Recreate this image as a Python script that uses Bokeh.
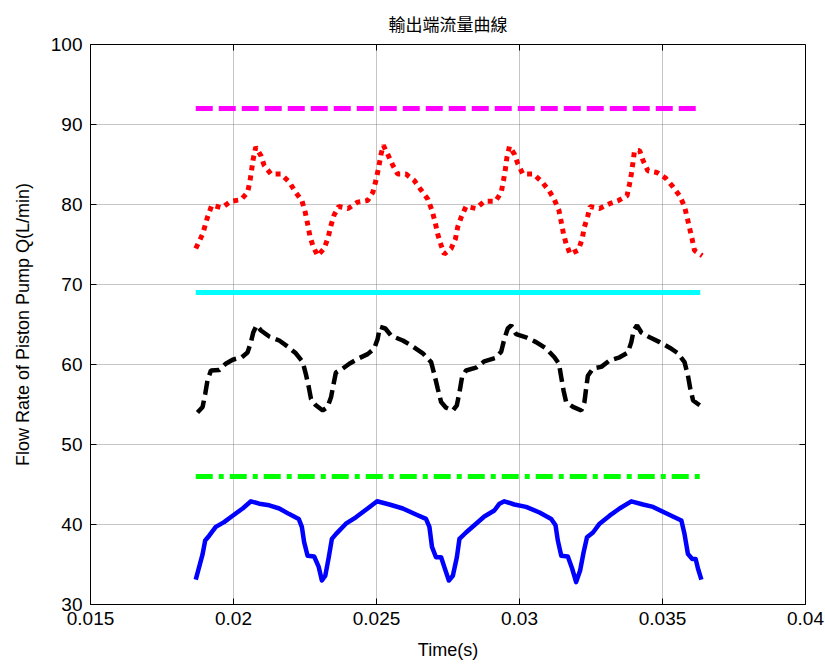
import numpy as np
from bokeh.plotting import figure
from bokeh.models import Range1d, FixedTicker
from bokeh.embed import file_html
from bokeh.resources import INLINE

# time in ms (converted to s below)
red_t = [18.68, 18.92, 19.09, 19.24, 19.59, 19.91, 20.26, 20.49, 20.57, 20.63, 20.69, 20.78, 20.96, 21.07, 21.31, 21.66, 21.95, 22.18, 22.39, 22.51, 22.59, 22.67, 22.77, 22.94, 23.17, 23.31, 23.41, 23.52, 23.68, 24.01, 24.34, 24.69, 24.87, 24.98, 25.08, 25.16, 25.24, 25.39, 25.57, 25.74, 26.03, 26.32, 26.56, 26.79, 26.94, 27.05, 27.14, 27.26, 27.37, 27.61, 27.76, 27.84, 27.96, 28.13, 28.48, 28.77, 29.16, 29.36, 29.44, 29.51, 29.56, 29.65, 29.82, 29.94, 30.12, 30.49, 30.79, 31.03, 31.22, 31.38, 31.46, 31.54, 31.63, 31.77, 32.06, 32.19, 32.27, 32.39, 32.47, 32.80, 33.15, 33.46, 33.76, 33.85, 33.91, 33.97, 34.02, 34.20, 34.32, 34.49, 34.81, 35.11, 35.37, 35.60, 35.77, 35.86, 35.95, 36.04, 36.12, 36.39]
red_q = [74.5, 76.3, 78.4, 79.9, 79.6, 80.4, 80.6, 81.5, 82.8, 84.25, 85.7, 87.2, 86.1, 84.9, 83.8, 83.8, 82.8, 81.5, 80.5, 79.0, 77.6, 76.1, 74.9, 73.6, 74.5, 75.9, 77.4, 78.7, 79.75, 79.5, 80.3, 80.5, 81.5, 83.0, 84.7, 86.3, 87.4, 86.3, 84.9, 83.8, 83.8, 83.0, 81.8, 80.7, 79.25, 77.8, 76.3, 74.9, 73.8, 74.5, 75.7, 77.2, 78.4, 79.75, 79.5, 80.4, 80.4, 81.5, 83.0, 84.5, 85.9, 87.25, 86.3, 85.1, 83.8, 83.8, 82.8, 81.75, 80.6, 79.25, 77.8, 76.3, 75.1, 73.8, 74.3, 75.7, 77.2, 78.6, 79.75, 79.5, 80.1, 80.5, 81.1, 82.6, 83.8, 85.3, 86.7, 86.75, 85.5, 84.2, 84.0, 83.3, 82.2, 81.1, 79.75, 78.4, 77.0, 75.6, 74.25, 73.6]

black_t = [18.74, 18.92, 19.01, 19.09, 19.21, 19.50, 19.73, 19.97, 20.29, 20.49, 20.61, 20.69, 20.81, 20.96, 21.25, 21.60, 21.89, 22.18, 22.42, 22.53, 22.63, 22.71, 22.88, 23.12, 23.29, 23.41, 23.49, 23.58, 23.82, 24.05, 24.34, 24.69, 24.92, 25.04, 25.12, 25.31, 25.51, 25.92, 26.27, 26.62, 26.91, 27.02, 27.14, 27.26, 27.43, 27.67, 27.81, 27.90, 27.99, 28.13, 28.48, 28.77, 29.15, 29.36, 29.47, 29.59, 29.71, 29.88, 30.23, 30.58, 30.93, 31.22, 31.38, 31.46, 31.54, 31.63, 31.87, 32.16, 32.27, 32.33, 32.39, 32.57, 32.86, 33.15, 33.50, 33.79, 33.91, 33.99, 34.11, 34.26, 34.55, 34.90, 35.25, 35.54, 35.77, 35.89, 35.97, 36.07, 36.30]
black_q = [54.0, 54.7, 56.3, 58.0, 59.25, 59.3, 60.1, 60.6, 60.9, 61.5, 62.8, 64.0, 64.9, 64.25, 63.5, 63.0, 62.25, 61.4, 60.3, 58.8, 57.2, 55.7, 54.9, 54.25, 54.7, 55.9, 57.4, 59.0, 59.5, 60.1, 60.7, 61.3, 62.0, 63.2, 64.7, 64.5, 63.6, 63.0, 62.25, 61.4, 60.3, 58.8, 57.0, 55.3, 54.6, 54.25, 54.9, 56.5, 58.4, 59.25, 59.6, 60.4, 60.8, 61.6, 63.2, 64.5, 64.9, 63.8, 63.4, 62.8, 62.0, 60.9, 60.1, 58.4, 56.75, 55.3, 54.7, 54.25, 55.3, 57.0, 58.6, 59.5, 59.7, 60.5, 60.9, 61.5, 62.8, 64.25, 64.9, 64.0, 63.4, 62.8, 62.1, 61.4, 60.3, 58.6, 57.0, 55.5, 54.9]

blue_t = [18.68, 18.80, 18.92, 19.01, 19.15, 19.38, 19.67, 19.97, 20.32, 20.61, 20.90, 21.25, 21.60, 21.95, 22.28, 22.39, 22.47, 22.59, 22.82, 22.98, 23.09, 23.21, 23.33, 23.44, 23.58, 23.93, 24.28, 24.69, 25.02, 25.45, 25.92, 26.38, 26.73, 26.85, 26.94, 27.08, 27.26, 27.37, 27.53, 27.67, 27.81, 27.90, 28.13, 28.48, 28.77, 29.12, 29.30, 29.47, 29.82, 30.23, 30.70, 31.11, 31.26, 31.34, 31.46, 31.69, 31.84, 31.98, 32.12, 32.24, 32.36, 32.57, 32.80, 33.15, 33.50, 33.91, 34.32, 34.67, 35.07, 35.42, 35.66, 35.77, 35.89, 36.04, 36.16, 36.24, 36.36]
blue_q = [33.1, 34.7, 36.3, 38.0, 38.6, 39.7, 40.3, 41.1, 42.0, 42.9, 42.6, 42.4, 42.0, 41.3, 40.7, 39.7, 37.8, 36.1, 36.0, 34.7, 33.0, 33.6, 35.9, 38.2, 38.8, 40.1, 40.9, 42.0, 42.9, 42.5, 42.0, 41.25, 40.7, 39.7, 37.2, 35.9, 35.9, 34.7, 33.0, 33.6, 35.9, 38.2, 39.0, 40.1, 41.0, 41.75, 42.6, 42.9, 42.5, 42.2, 41.5, 40.7, 39.9, 38.0, 36.1, 36.0, 34.5, 32.8, 34.25, 36.5, 38.4, 39.0, 40.1, 41.1, 42.0, 42.9, 42.5, 42.2, 41.5, 40.9, 40.5, 38.8, 36.3, 35.7, 35.7, 34.5, 33.1]

ref_t = [18.68, 36.32]
magenta_q = [92, 92]
cyan_q = [69, 69]
green_q = [46, 46]

x_ticks = [0.015, 0.02, 0.025, 0.03, 0.035, 0.04]
y_ticks = [30, 40, 50, 60, 70, 80, 90, 100]
x_labels = ["0.015", "0.02", "0.025", "0.03", "0.035", "0.04"]

def sec(ms):
    return [v / 1000.0 for v in ms]

FONT = "Liberation Sans"
X0, X1, Y0, Y1 = 0.015, 0.04, 30, 100

p = figure(width=825, height=666, output_backend="svg", toolbar_location=None,
           x_range=Range1d(X0, X1), y_range=Range1d(Y0, Y1),
           min_border_left=90, min_border_right=20, min_border_top=44, min_border_bottom=62,
           title="輸出端流量曲線")
p.title.align = "center"
p.title.vertical_align = "top"
p.title.text_font = "Noto Sans CJK TC"
p.title.text_font_style = "normal"
p.title.text_font_size = "17px"
p.title.text_color = "#000000"
p.title.offset = 0
p.title.standoff = 14
p.outline_line_color = "#000000"
p.outline_line_width = 1
p.background_fill_color = "#ffffff"
p.border_fill_color = "#ffffff"

for ax in (p.xaxis[0], p.yaxis[0]):
    ax.major_tick_in = 6
    ax.major_tick_out = 0
    ax.minor_tick_in = 0
    ax.minor_tick_out = 0
    ax.major_label_text_font = FONT
    ax.major_label_text_font_size = "19px"
    ax.major_label_text_color = "#000000"
    ax.axis_label_text_font = FONT
    ax.axis_label_text_font_size = "18px"
    ax.axis_label_text_font_style = "normal"
    ax.axis_label_text_color = "#000000"
    ax.axis_line_color = "#000000"
    ax.major_tick_line_color = "#000000"

p.xaxis[0].ticker = FixedTicker(ticks=x_ticks)
p.yaxis[0].ticker = FixedTicker(ticks=y_ticks)
p.xaxis[0].axis_label = "Time(s)"
p.yaxis[0].axis_label = "Flow Rate of Piston Pump Q(L/min)"
p.xaxis[0].major_label_standoff = 7
p.yaxis[0].major_label_standoff = 8
p.xaxis[0].axis_label_standoff = 12
p.yaxis[0].axis_label_standoff = 15
p.xaxis[0].major_label_overrides = dict(zip(x_ticks, x_labels))

# ticks on the top and right edges of the box (MATLAB style)
tick_dy = (Y1 - Y0) * 6 / 560.0
tick_dx = (X1 - X0) * 6 / 715.0
p.segment(x0=x_ticks, y0=[Y1] * len(x_ticks), x1=x_ticks, y1=[Y1 - tick_dy] * len(x_ticks),
          line_color="#000000", line_width=1)
p.segment(x0=[X1] * len(y_ticks), y0=y_ticks, x1=[X1 - tick_dx] * len(y_ticks), y1=y_ticks,
          line_color="#000000", line_width=1)

p.xgrid.ticker = FixedTicker(ticks=x_ticks)
p.ygrid.ticker = FixedTicker(ticks=y_ticks)
for g in (p.xgrid[0], p.ygrid[0]):
    g.grid_line_color = "#808080"
    g.grid_line_width = 1
    g.grid_line_dash = "1 1"
    g.grid_line_alpha = 0.9

p.line(sec(ref_t), magenta_q, line_color="#ff00ff", line_width=5, line_dash="17 6")
p.line(sec(red_t), red_q, line_color="#ff0000", line_width=5, line_dash="5 5")
p.line(sec(ref_t), cyan_q, line_color="#00ffff", line_width=5)
p.line(sec(black_t), black_q, line_color="#000000", line_width=4.5, line_dash="14 6")
p.line(sec(ref_t), green_q, line_color="#00ff00", line_width=5, line_dash="17 6 5 6")
p.line(sec(blue_t), blue_q, line_color="#0000ff", line_width=4.5, line_join="round")

open("out.html", "w").write(file_html(p, INLINE))
